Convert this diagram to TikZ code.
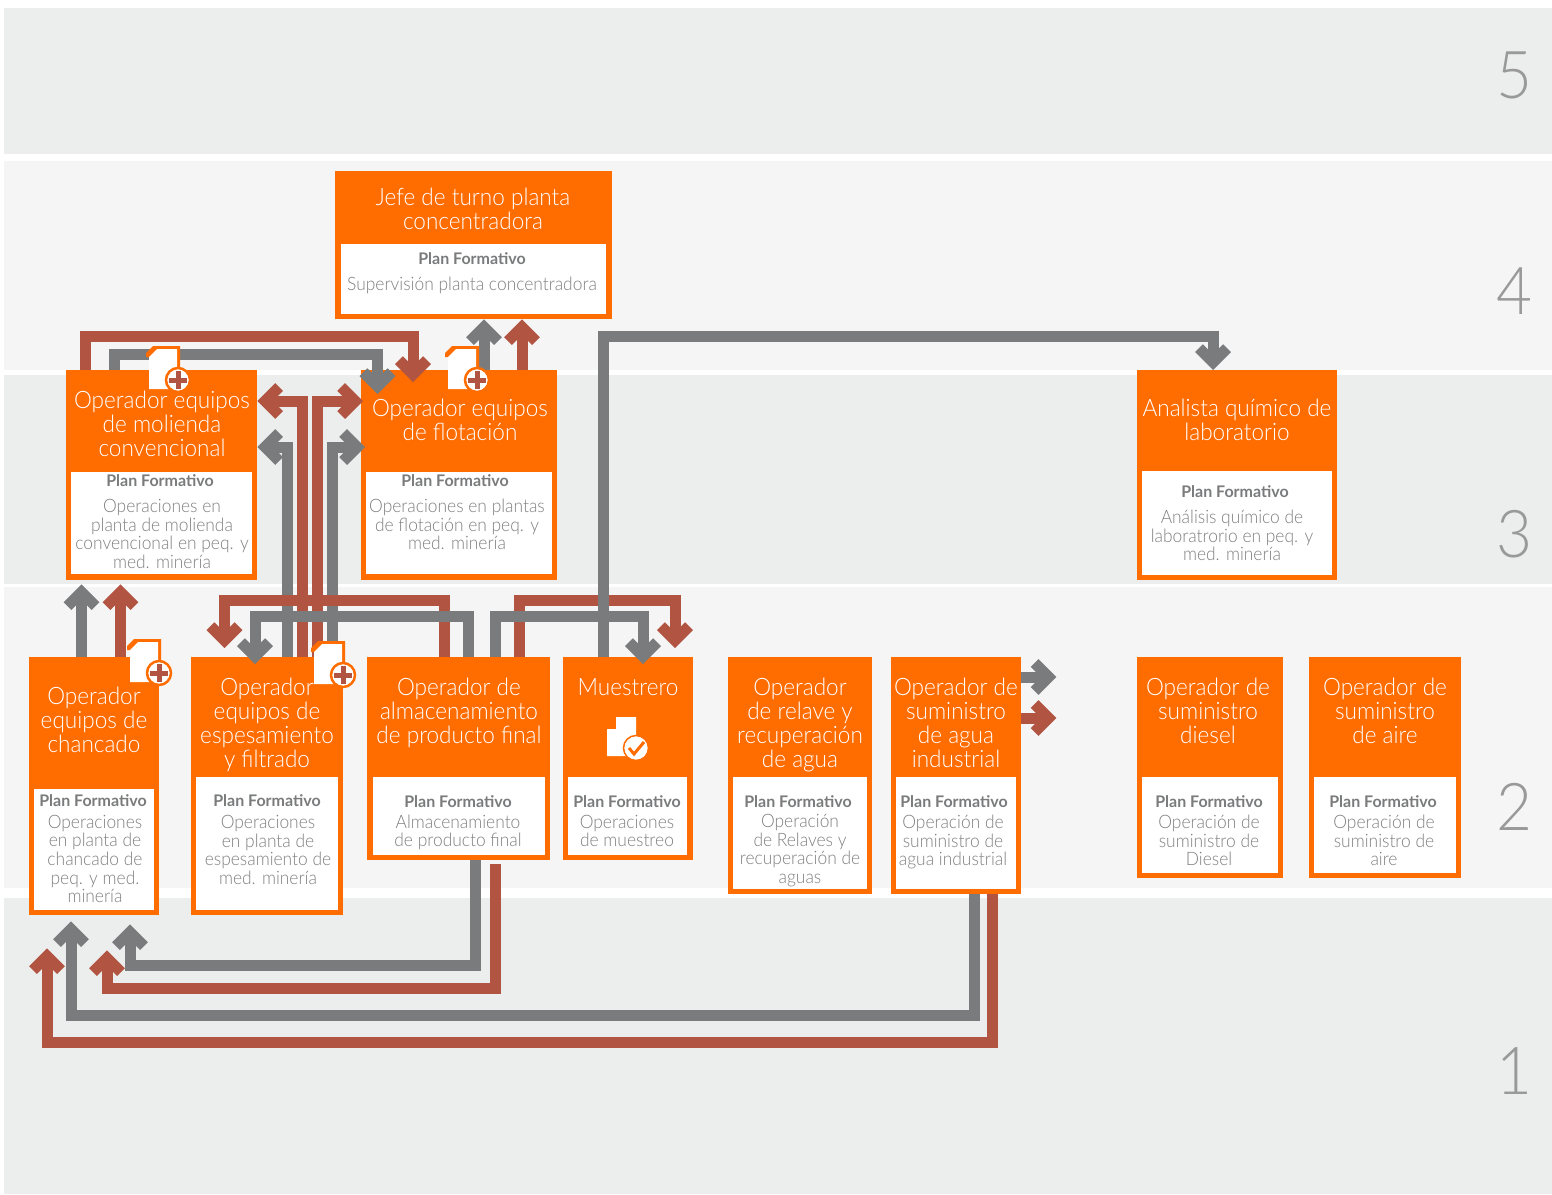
\documentclass[tikz,border=0pt]{standalone}
\usepackage{fontspec}
\setmainfont{Lato}[UprightFont=* Light,BoldFont=*-Bold,UprightFeatures={FakeStretch=0.94}]
\usetikzlibrary{arrows.meta}
\definecolor{naranja}{HTML}{FF6C00}
\definecolor{rojizo}{HTML}{B15441}
\definecolor{plomo}{HTML}{7A7B7C}
\definecolor{banda}{HTML}{ECEEED}
\definecolor{bandaclara}{HTML}{F5F5F5}
\tikzset{
  cargo/.style={fill=naranja,anchor=north west,inner sep=0},
  panel/.style={fill=white,anchor=north west,inner sep=0},
  titulo/.style={text=white,align=center,font=\fontsize{24}{24}\selectfont},
  planf/.style={text=plomo,font=\fontsize{16}{16}\selectfont\bfseries},
  desc/.style={text=black!50,align=center,font=\fontsize{18.5}{18.6}\selectfont},
  nivel/.style={text=black!40,font=\fontsize{66}{66}\selectfont},
  flecha/.style={line width=11,line join=miter,-{Straight Barb[length=14pt,width=28pt,line width=11pt]}},
  docmas/.pic={
    \fill[naranja] (0,7) -- (7,0) -- (34,0) -- (34,30) -- (3,30) -- (3,11) -- (0,11) -- cycle;
    \fill[white] (3,11) -- (11,3) -- (31,3) -- (31,43) -- (3,43) -- cycle;
    \draw[naranja,fill=white,line width=2.5] (32,34) circle (12);
    \draw[rojizo,line width=5] (23,34) -- (41,34);
    \draw[rojizo,line width=5] (32,25) -- (32,43);
  },
}
\begin{document}
\begin{tikzpicture}[x=1pt,y=-1pt]
  \useasboundingbox (0,0) rectangle (1552,1194);

  \fill[banda] (4,8) rectangle (1552,154);
  \fill[bandaclara] (4,161) rectangle (1552,370);
  \fill[banda] (4,375) rectangle (1552,584);
  \fill[bandaclara] (4,587) rectangle (1552,888);
  \fill[banda] (4,898) rectangle (1552,1194);

  \node[nivel] (n5) at (1514,75) {5};
  \node[nivel] (n4) at (1514,291) {4};
  \node[nivel] (n3) at (1514,534) {3};
  \node[nivel] (n2) at (1514,807) {2};
  \node[nivel] (n1) at (1514,1071) {1};

  % nivel 4
  \node[cargo,minimum width=277,minimum height=148] (jefe) at (335,171) {};
  \node[panel,minimum width=265,minimum height=70] (jefep) at (341,244) {};
  \node[titulo] (jefet) at (473,209) {Jefe de turno planta\\concentradora};
  \node[planf] (jefef) at (472,259) {Plan Formativo};
  \node[desc] (jefed) at (472,285) {Supervisión planta concentradora};

  % nivel 3
  \node[cargo,minimum width=191,minimum height=210] (molienda) at (66,370) {};
  \node[panel,minimum width=181,minimum height=102] (moliendap) at (71,472) {};
  \node[titulo] (moliendat) at (162,424) {Operador equipos\\de molienda\\convencional};
  \node[planf] (moliendaf) at (160,481) {Plan Formativo};
  \node[desc] (moliendad) at (162,534) {Operaciones en\\planta de molienda\\convencional en peq. y\\med. minería};

  \node[cargo,minimum width=196.5,minimum height=210] (flotacion) at (360.5,370) {};
  \node[panel,minimum width=186,minimum height=102] (flotacionp) at (366,472) {};
  \node[titulo] (flotaciont) at (460,420) {Operador equipos\\de flotación};
  \node[planf] (flotacionf) at (455,481) {Plan Formativo};
  \node[desc] (flotaciond) at (457,524.5) {Operaciones en plantas\\de flotación en peq. y\\med. minería};

  \node[cargo,minimum width=200,minimum height=210] (analista) at (1137,370) {};
  \node[panel,minimum width=190,minimum height=104] (analistap) at (1142,471) {};
  \node[titulo] (analistat) at (1237,420) {Analista químico de\\laboratorio};
  \node[planf] (analistaf) at (1235,492) {Plan Formativo};
  \node[desc] (analistad) at (1232,535.5) {Análisis químico de\\laboratrorio en peq. y\\med. minería};

  % nivel 2
  \node[cargo,minimum width=130,minimum height=258] (chancado) at (29,657) {};
  \node[panel,minimum width=120,minimum height=121] (chancadop) at (34,789) {};
  \node[titulo] (chancadot) at (94,720) {Operador\\equipos de\\chancado};
  \node[planf] (chancadof) at (93,801) {Plan Formativo};
  \node[desc] (chancadod) at (95,859) {Operaciones\\en planta de\\chancado de\\peq. y med.\\minería};

  \node[cargo,minimum width=152,minimum height=258] (espesa) at (191,657) {};
  \node[panel,minimum width=142,minimum height=133] (espesap) at (196,777) {};
  \node[titulo] (espesat) at (267,725) {Operador\\equipos de\\espesamiento\\y filtrado};
  \node[planf] (espesaf) at (267,801) {Plan Formativo};
  \node[desc] (espesad) at (268,850) {Operaciones\\en planta de\\espesamiento de\\med. minería};

  \node[cargo,minimum width=183,minimum height=203] (almacen) at (367,657) {};
  \node[panel,minimum width=172,minimum height=78] (almacenp) at (373,777) {};
  \node[titulo] (almacent) at (459,713) {Operador de\\almacenamiento\\de producto final};
  \node[planf] (almacenf) at (458,802) {Plan Formativo};
  \node[desc] (almacend) at (458,832.5) {Almacenamiento\\de producto final};

  \node[cargo,minimum width=130,minimum height=203] (muestrero) at (563,657) {};
  \node[panel,minimum width=119,minimum height=78] (muestrerop) at (568,777) {};
  \node[titulo] (muestrerot) at (628,687) {Muestrero};
  \node[planf] (muestrerof) at (627,802) {Plan Formativo};
  \node[desc] (muestrerod) at (627,831) {Operaciones\\de muestreo};

  \node[cargo,minimum width=144,minimum height=237] (relave) at (728,657) {};
  \node[panel,minimum width=134,minimum height=112] (relavep) at (733,777) {};
  \node[titulo] (relavet) at (800,725) {Operador\\de relave y\\recuperación\\de agua};
  \node[planf] (relavef) at (798,802) {Plan Formativo};
  \node[desc] (relaved) at (800,850.5) {Operación\\de Relaves y\\recuperación de\\aguas};

  \node[cargo,minimum width=130,minimum height=237] (agua) at (891,657) {};
  \node[panel,minimum width=120,minimum height=112] (aguap) at (896,777) {};
  \node[titulo] (aguat) at (956,723) {Operador de\\suministro\\de agua\\industrial};
  \node[planf] (aguaf) at (954,802) {Plan Formativo};
  \node[desc] (aguad) at (953,842) {Operación de\\suministro de\\agua industrial};

  \node[cargo,minimum width=146,minimum height=221] (diesel) at (1137,657) {};
  \node[panel,minimum width=136,minimum height=96] (dieselp) at (1142,777) {};
  \node[titulo] (dieselt) at (1208,711) {Operador de\\suministro\\diesel};
  \node[planf] (dieself) at (1209,802) {Plan Formativo};
  \node[desc] (dieseld) at (1209,840.5) {Operación de\\suministro de\\Diesel};

  \node[cargo,minimum width=152,minimum height=221] (aire) at (1309,657) {};
  \node[panel,minimum width=142,minimum height=96] (airep) at (1314,777) {};
  \node[titulo] (airet) at (1385,711) {Operador de\\suministro\\de aire};
  \node[planf] (airef) at (1383,802) {Plan Formativo};
  \node[desc] (aired) at (1384,840.5) {Operación de\\suministro de\\aire};

  % conexiones arriba
  \draw[flecha,rojizo] ([xshift=19]molienda.north west) -- ++(0,-34) -| ([xshift=52.5,yshift=-12]flotacion.north west);
  \draw[flecha,plomo] ([xshift=48.5]molienda.north west) -- ++(0,-16) -| ([xshift=17,yshift=-24]flotacion.north west);
  \draw[flecha,plomo] ([xshift=123.5]flotacion.north west) -- ([xshift=149]jefe.south west);
  \draw[flecha,rojizo] ([xshift=161.5]flotacion.north west) -- ([xshift=187]jefe.south west);

  % barras centrales
  \draw[flecha,plomo] ([xshift=96]espesa.north west) |- ([yshift=-77]molienda.north east);
  \draw[flecha,rojizo] ([xshift=111]espesa.north west) |- ([yshift=-31]molienda.north east);
  \draw[flecha,rojizo] ([xshift=126]espesa.north west) |- ([xshift=2.5,yshift=-31]flotacion.north west);
  \draw[flecha,plomo] ([xshift=141]espesa.north west) |- ([xshift=4.5,yshift=-77]flotacion.north west);

  % almacenamiento y muestrero
  \draw[flecha,rojizo] ([xshift=77.5]almacen.north west) -- ++(0,-57) -| ([xshift=33.5,yshift=9]espesa.north west);
  \draw[flecha,rojizo] ([xshift=152]almacen.north west) -- ++(0,-57) -| ([xshift=112,yshift=9]muestrero.north west);
  \draw[flecha,plomo] ([xshift=101]almacen.north west) -- ++(0,-40.5) -| ([xshift=64,yshift=-7]espesa.north west);
  \draw[flecha,plomo] ([xshift=128.5]almacen.north west) -- ++(0,-40.5) -| ([xshift=80,yshift=-7]muestrero.north west);
  \draw[flecha,plomo] ([xshift=40]muestrero.north west) -- ++(0,-321) -| ([xshift=76]analista.north west);

  % chancado a molienda
  \draw[flecha,plomo] ([xshift=52.5]chancado.north west) -- ([xshift=15.5,yshift=-4]molienda.south west);
  \draw[flecha,rojizo] ([xshift=91.5]chancado.north west) -- ([xshift=54.5,yshift=-4]molienda.south west);

  % abajo
  \draw[flecha,plomo] ([xshift=108.5]almacen.south west) -- ++(0,105) -| ([xshift=101,yshift=-9]chancado.south west);
  \draw[flecha,rojizo] ([xshift=128.5,yshift=-4]almacen.south west) -- ++(0,124) -| ([xshift=78,yshift=-35]chancado.south west);
  \draw[flecha,plomo] ([xshift=83]agua.south west) -- ++(0,121) -| ([xshift=42,yshift=-6]chancado.south west);
  \draw[flecha,rojizo] ([xshift=101]agua.south west) -- ++(0,148) -| ([xshift=18,yshift=-33]chancado.south west);
  \draw[flecha,plomo] ([yshift=-20]agua.north east) -- ++(35,0);
  \draw[flecha,rojizo] ([yshift=-61]agua.north east) -- ++(35,0);

  % iconos
  \pic (docmolienda) at (146,346) {docmas};
  \pic (docflotacion) at (445,346) {docmas};
  \pic (docchancado) at (127,639) {docmas};
  \pic (docespesa) at (311,641) {docmas};
  \fill[white] (607,729) -- (616,729) -- (616,717) -- (636,717) -- (636,756) -- (607,756) -- cycle;
  \draw[naranja,fill=white,line width=1.5] (636,748) circle (12.5);
  \draw[naranja,line width=3] (629,748) -- (634,754) -- (644,742);
\end{tikzpicture}
\end{document}
